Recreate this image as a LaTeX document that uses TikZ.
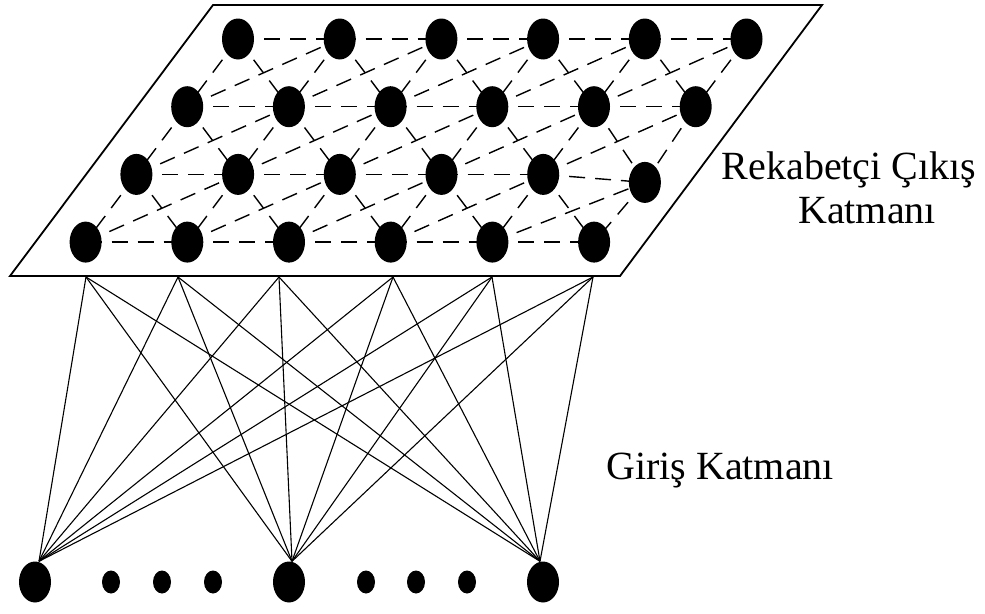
\documentclass[tikz,border=0pt]{standalone}
\usepackage{fontspec}
\setmainfont{Liberation Serif}
\usetikzlibrary{shapes.geometric}
\pgfdeclarelayer{bg}
\pgfsetlayers{bg,main}
\begin{document}
\begin{tikzpicture}[x=1pt,y=-1pt,
  unit/.style={ellipse, fill=black, minimum width=32pt, minimum height=41pt, inner sep=0pt},
  dotnode/.style={ellipse, fill=black, minimum width=18pt, minimum height=23pt, inner sep=0pt},
  lateral/.style={dash pattern=on 16pt off 10pt, line width=1.4pt},
  link/.style={line width=1.1pt},
  frame/.style={line width=1.8pt},
  lbl/.style={font=\fontsize{40}{44}\selectfont, inner sep=0pt, anchor=base}]
\useasboundingbox (0,0) rectangle (985,613);
% frame of output layer
\coordinate (p1) at (213,5);
\coordinate (p2) at (822,5);
\coordinate (p3) at (620,276);
\coordinate (p4) at (10,276);
\draw[frame] (p1) -- (p2) -- (p3) -- (p4) -- cycle;
% competitive output layer nodes
\foreach \i in {0,...,3} {
  \foreach \j in {0,...,5} {
    \pgfmathsetmacro\xx{238+101.7*\j-50.8*\i}
    \pgfmathsetmacro\yy{39+67.7*\i+8*(\i==2)*(\j==5)}
    \node[unit] (n-\i-\j) at (\xx,\yy) {};
  }
}
% lateral dashed connections
\begin{pgfonlayer}{bg}
\foreach \i in {0,...,3} {
  \foreach \j in {0,...,4} {
    \pgfmathtruncatemacro\k{\j+1}
    \draw[lateral] (n-\i-\j.center) -- (n-\i-\k.center);
  }
}
\foreach \i in {0,1,2} {
  \pgfmathtruncatemacro\m{\i+1}
  \foreach \j in {0,...,5} {
    \draw[lateral] (n-\i-\j.center) -- (n-\m-\j.center);
  }
  \foreach \j in {0,...,4} {
    \pgfmathtruncatemacro\k{\j+1}
    \draw[lateral] (n-\i-\j.center) -- (n-\m-\k.center);
    \draw[lateral] (n-\m-\j.center) -- (n-\i-\k.center);
  }
}
\end{pgfonlayer}
% input layer
\node[unit] (b1) at (35,582) {};
\node[unit] (b2) at (289,582) {};
\node[unit] (b3) at (543,582) {};
\node[dotnode] (d1) at (111,582) {};
\node[dotnode] (d2) at (162,582) {};
\node[dotnode] (d3) at (213,582) {};
\node[dotnode] (d4) at (366,582) {};
\node[dotnode] (d5) at (416,582) {};
\node[dotnode] (d6) at (467,582) {};
\coordinate (c1) at ([xshift=4pt]b1.north);
\coordinate (c2) at ([xshift=3pt]b2.north);
\coordinate (c3) at ([xshift=-3pt]b3.north);
% attachment points on the frame
\coordinate (t1) at (86,277);
\coordinate (t2) at (178,277);
\coordinate (t3) at (279,277);
\coordinate (t4) at (393,277);
\coordinate (t5) at (492,277);
\coordinate (t6) at (593,277);
\foreach \t in {1,...,6} {
  \foreach \b in {1,2,3} {
    \draw[link] (t\t) -- (c\b);
  }
}
% labels
\node[lbl] (rek) at (849,179) {Rekabetçi Çıkış};
\node[lbl] (kat) at (867,223) {Katmanı};
\node[lbl] (gir) at (720,479) {Giriş Katmanı};
\end{tikzpicture}
\end{document}
